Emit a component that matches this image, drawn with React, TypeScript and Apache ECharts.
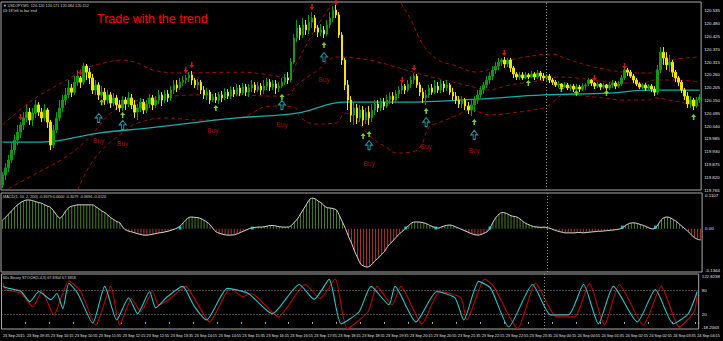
import { useEffect, useRef } from "react";
import * as echarts from "echarts";

// [open, close, low, high] per 5-minute bar, USDJPY M5 from 23 Sep 2015 08:55
const candles: number[][] = [
  [119.787,119.830,119.774,119.842],[119.830,119.860,119.808,119.881],[119.860,119.894,119.842,119.916],[119.894,119.937,119.881,119.971],
  [119.937,119.980,119.916,120.002],[119.980,120.014,119.959,120.045],[120.014,120.045,119.989,120.057],[120.045,120.075,120.023,120.100],
  [120.075,120.100,120.057,120.131],[120.100,120.066,120.045,120.118],[120.066,120.096,120.040,120.118],[120.096,120.131,120.075,120.152],
  [120.131,120.100,120.083,120.143],[120.100,120.075,120.057,120.118],[120.075,120.109,120.062,120.135],[120.109,120.057,120.032,120.118],
  [120.057,119.959,119.937,120.066],[119.959,120.023,119.946,120.045],[120.023,120.075,120.010,120.100],[120.075,120.118,120.062,120.152],
  [120.118,120.152,120.100,120.174],[120.152,120.174,120.131,120.204],[120.174,120.204,120.161,120.238],[120.204,120.186,120.165,120.221],
  [120.186,120.229,120.174,120.255],[120.229,120.255,120.212,120.281],[120.247,120.229,120.204,120.255],[120.229,120.298,120.217,120.311],
  [120.298,120.272,120.238,120.307],[120.272,120.247,120.221,120.290],[120.247,120.195,120.178,120.264],[120.195,120.217,120.174,120.238],
  [120.217,120.174,120.152,120.229],[120.174,120.186,120.161,120.212],[120.186,120.152,120.131,120.204],[120.152,120.174,120.135,120.195],
  [120.174,120.139,120.118,120.186],[120.139,120.161,120.126,120.182],[120.161,120.131,120.109,120.174],[120.131,120.118,120.100,120.152],
  [120.118,120.152,120.105,120.169],[120.152,120.135,120.109,120.165],[120.135,120.161,120.122,120.186],[120.161,120.131,120.113,120.178],
  [120.131,120.100,120.075,120.152],[120.100,120.118,120.066,120.135],[120.118,120.143,120.100,120.161],[120.143,120.109,120.092,120.156],
  [120.109,120.135,120.096,120.152],[120.135,120.161,120.118,120.178],[120.161,120.131,120.109,120.174],[120.131,120.152,120.118,120.169],
  [120.152,120.174,120.135,120.195],[120.174,120.152,120.126,120.186],[120.152,120.178,120.139,120.195],[120.178,120.161,120.143,120.195],
  [120.161,120.195,120.148,120.212],[120.195,120.217,120.178,120.238],[120.217,120.204,120.186,120.238],[120.204,120.229,120.195,120.247],
  [120.229,120.238,120.212,120.255],[120.238,120.247,120.221,120.260],[120.247,120.260,120.229,120.272],[120.260,120.238,120.217,120.277],
  [120.238,120.217,120.204,120.247],[120.217,120.229,120.195,120.242],[120.229,120.195,120.178,120.238],[120.195,120.174,120.156,120.212],
  [120.174,120.186,120.152,120.204],[120.186,120.152,120.135,120.195],[120.152,120.165,120.143,120.178],[120.165,120.152,120.139,120.182],
  [120.152,120.174,120.135,120.186],[120.174,120.161,120.143,120.191],[120.161,120.186,120.152,120.204],[120.186,120.169,120.156,120.199],
  [120.169,120.195,120.156,120.212],[120.195,120.178,120.165,120.208],[120.178,120.204,120.169,120.221],[120.204,120.182,120.169,120.217],
  [120.182,120.208,120.174,120.225],[120.208,120.186,120.169,120.221],[120.186,120.204,120.165,120.221],[120.204,120.217,120.186,120.238],
  [120.217,120.195,120.182,120.229],[120.195,120.212,120.186,120.229],[120.212,120.195,120.174,120.225],[120.195,120.212,120.178,120.238],
  [120.212,120.229,120.195,120.247],[120.229,120.208,120.191,120.242],[120.208,120.221,120.195,120.238],[120.221,120.204,120.178,120.238],
  [120.204,120.212,120.186,120.229],[120.212,120.229,120.204,120.247],[120.229,120.247,120.217,120.264],[120.247,120.238,120.221,120.272],
  [120.238,120.315,120.229,120.333],[120.315,120.419,120.307,120.436],[120.419,120.462,120.401,120.496],[120.462,120.432,120.410,120.475],
  [120.432,120.475,120.419,120.505],[120.475,120.453,120.432,120.496],[120.453,120.487,120.436,120.518],[120.487,120.505,120.462,120.530],
  [120.505,120.462,120.444,120.518],[120.462,120.444,120.423,120.475],[120.444,120.453,120.427,120.479],[120.453,120.436,120.419,120.470],
  [120.436,120.475,120.427,120.496],[120.475,120.505,120.462,120.530],[120.505,120.539,120.487,120.556],[120.539,120.518,120.505,120.561],
  [120.518,120.432,120.419,120.530],[120.432,120.324,120.303,120.444],[120.324,120.217,120.195,120.333],[120.217,120.152,120.109,120.238],
  [120.152,120.088,120.057,120.169],[120.088,120.118,120.045,120.143],[120.118,120.075,120.049,120.135],[120.075,120.109,120.057,120.131],
  [120.109,120.066,120.040,120.126],[120.066,120.100,120.049,120.118],[120.100,120.075,120.045,120.126],[120.075,120.109,120.057,120.135],
  [120.109,120.135,120.088,120.152],[120.135,120.118,120.100,120.152],[120.118,120.143,120.105,120.161],[120.143,120.126,120.109,120.161],
  [120.126,120.152,120.118,120.174],[120.152,120.169,120.135,120.186],[120.169,120.152,120.135,120.186],[120.152,120.178,120.139,120.195],
  [120.178,120.195,120.161,120.212],[120.195,120.212,120.178,120.229],[120.212,120.195,120.178,120.221],[120.195,120.221,120.186,120.238],
  [120.221,120.238,120.204,120.255],[120.238,120.255,120.221,120.268],[120.255,120.217,120.204,120.264],[120.217,120.186,120.169,120.229],
  [120.186,120.161,120.139,120.204],[120.161,120.174,120.131,120.195],[120.174,120.204,120.161,120.217],[120.204,120.186,120.174,120.221],
  [120.186,120.212,120.178,120.238],[120.212,120.195,120.182,120.229],[120.195,120.221,120.182,120.238],[120.221,120.204,120.186,120.234],
  [120.204,120.217,120.191,120.238],[120.217,120.186,120.174,120.225],[120.186,120.169,120.152,120.204],[120.169,120.152,120.135,120.186],
  [120.152,120.135,120.118,120.169],[120.135,120.152,120.118,120.169],[120.152,120.126,120.109,120.161],[120.126,120.109,120.092,120.143],
  [120.109,120.131,120.083,120.152],[120.131,120.152,120.100,120.169],[120.152,120.174,120.135,120.195],[120.174,120.195,120.161,120.212],
  [120.195,120.217,120.178,120.229],[120.217,120.238,120.204,120.255],[120.238,120.255,120.221,120.272],[120.255,120.281,120.238,120.298],
  [120.281,120.298,120.264,120.315],[120.298,120.315,120.281,120.333],[120.315,120.324,120.298,120.333],[120.324,120.307,120.290,120.337],
  [120.307,120.324,120.294,120.333],[120.324,120.290,120.272,120.333],[120.290,120.264,120.247,120.298],[120.264,120.251,120.238,120.272],
  [120.251,120.260,120.238,120.272],[120.260,120.247,120.238,120.272],[120.247,120.260,120.242,120.272],[120.260,120.251,120.242,120.268],
  [120.251,120.264,120.247,120.277],[120.264,120.251,120.238,120.272],[120.251,120.268,120.242,120.281],[120.268,120.255,120.238,120.277],
  [120.255,120.247,120.234,120.268],[120.247,120.255,120.234,120.264],[120.255,120.238,120.225,120.264],[120.238,120.229,120.217,120.247],
  [120.229,120.217,120.208,120.238],[120.217,120.221,120.204,120.234],[120.221,120.208,120.195,120.225],[120.208,120.217,120.204,120.229],
  [120.217,120.204,120.195,120.225],[120.204,120.212,120.191,120.221],[120.212,120.199,120.186,120.221],[120.199,120.208,120.195,120.221],
  [120.208,120.199,120.186,120.217],[120.199,120.212,120.191,120.225],[120.212,120.217,120.195,120.225],[120.221,120.238,120.212,120.247],
  [120.238,120.225,120.212,120.242],[120.225,120.212,120.199,120.229],[120.212,120.221,120.204,120.229],[120.221,120.208,120.195,120.225],
  [120.208,120.217,120.199,120.225],[120.217,120.204,120.195,120.221],[120.204,120.217,120.195,120.229],[120.217,120.225,120.204,120.238],
  [120.225,120.212,120.199,120.234],[120.212,120.221,120.204,120.234],[120.221,120.247,120.212,120.260],[120.247,120.281,120.238,120.294],
  [120.281,120.272,120.255,120.290],[120.272,120.255,120.247,120.281],[120.255,120.238,120.225,120.264],[120.238,120.221,120.212,120.247],
  [120.221,120.208,120.199,120.229],[120.208,120.217,120.199,120.225],[120.217,120.204,120.195,120.225],[120.204,120.212,120.195,120.221],
  [120.212,120.199,120.186,120.221],[120.199,120.186,120.169,120.212],[120.186,120.281,120.174,120.303],[120.281,120.358,120.268,120.380],
  [120.358,120.333,120.303,120.380],[120.333,120.303,120.281,120.358],[120.303,120.315,120.272,120.346],[120.315,120.272,120.251,120.324],
  [120.272,120.247,120.229,120.281],[120.247,120.229,120.212,120.255],[120.229,120.195,120.182,120.238],[120.195,120.169,120.152,120.204],
  [120.169,120.135,120.118,120.186],[120.135,120.152,120.118,120.169],[120.152,120.126,120.109,120.161],[120.126,120.152,120.118,120.165],
  [120.152,120.165,120.139,120.178],
];

// dashed envelope bands and moving average, sampled [bar, price]
const upperBand: number[][] = [[0,120.045],[10,120.152],[23,120.251],[28,120.290],[35,120.315],[39,120.324],[45,120.311],[50,120.281],[59,120.268],[79,120.272],[89,120.260],[95,120.247],[98,120.315],[105,120.475],[111,120.582],[118,120.647],[130,120.647],[133,120.561],[136,120.496],[140,120.389],[145,120.324],[150,120.303],[158,120.272],[163,120.290],[168,120.320],[174,120.337],[183,120.350],[187,120.333],[191,120.315],[197,120.294],[202,120.281],[207,120.272],[216,120.268],[219,120.303],[222,120.324],[232,120.337]];
const middleBand: number[][] = [[0,119.756],[9,119.821],[21,119.907],[29,119.993],[36,120.096],[43,120.143],[54,120.165],[65,120.174],[79,120.174],[89,120.169],[95,120.174],[98,120.217],[105,120.281],[111,120.337],[122,120.324],[131,120.294],[140,120.260],[150,120.229],[158,120.204],[161,120.195],[169,120.217],[180,120.238],[185,120.251],[191,120.247],[202,120.229],[213,120.225],[217,120.238],[224,120.238],[232,120.229]];
const lowerBand: number[][] = [[25,119.765],[31,119.907],[41,120.023],[45,120.053],[54,120.075],[65,120.066],[79,120.075],[89,120.126],[97,120.122],[99,120.079],[104,120.049],[111,120.053],[114,120.096],[123,119.989],[128,119.946],[131,119.924],[136,119.928],[139,119.950],[142,120.036],[145,120.053],[150,120.079],[156,120.109],[162,120.088],[169,120.096],[180,120.118],[183,120.139],[185,120.165],[188,120.174],[197,120.165],[207,120.152],[215,120.152],[217,120.161],[222,120.152],[232,120.126]];
const trendMA: number[][] = [[0,119.971],[13,119.971],[32,120.010],[49,120.032],[78,120.075],[98,120.096],[114,120.143],[134,120.143],[158,120.156],[180,120.174],[202,120.182],[215,120.195],[232,120.195]];

// signal arrows [bar, price]
const sellArrows: number[][] = [[6,120.079],[26,120.272],[61,120.281],[63,120.303],[103,120.552],[111,120.573],[133,120.238],[137,120.290],[167,120.354],[197,120.247],[207,120.298]];
const upArrows: number[][] = [[33,120.143],[40,120.088],[71,120.118],[93,120.165],[107,120.389],[120,119.997],[122,120.006],[141,120.105],[157,120.057],[175,120.225],[186,120.199],[191,120.182],[201,120.182],[214,120.204],[230,120.079]];
const buyArrows: number[][] = [[32,120.075],[40,120.045],[93,120.131],[107,120.337],[122,119.958],[141,120.057],[157,120.002]];
const buyLabels: number[][] = [[32,119.976],[40,119.967],[70,120.023],[93,120.045],[107,120.242],[122,119.881],[141,119.954],[157,119.937]];

// MACD oscillator per bar
const macd: number[] = [
  0.027,0.035,0.045,0.055,0.065,0.074,0.081,0.086,0.089,0.089,0.087,0.084,0.081,0.079,0.074,0.070,0.066,0.055,0.042,0.033,
  0.040,0.055,0.065,0.070,0.072,0.074,0.074,0.074,0.074,0.074,0.074,0.068,0.062,0.055,0.050,0.042,0.034,0.028,0.022,0.018,
  0.004,-0.004,-0.008,-0.010,-0.013,-0.016,-0.018,-0.020,-0.020,-0.019,-0.017,-0.015,-0.013,-0.012,-0.010,-0.008,-0.005,-0.002,0.002,0.008,
  0.018,0.028,0.035,0.036,0.035,0.034,0.031,0.026,0.020,0.012,0.000,-0.010,-0.014,-0.017,-0.019,-0.020,-0.020,-0.019,-0.016,-0.012,
  -0.008,-0.004,0.000,0.003,0.004,0.005,0.005,0.006,0.008,0.010,0.010,0.008,0.006,0.005,0.005,0.005,0.010,0.020,0.030,0.045,
  0.060,0.075,0.090,0.095,0.092,0.085,0.080,0.070,0.065,0.064,0.062,0.058,0.040,0.020,0.000,-0.025,-0.045,-0.070,-0.090,-0.110,
  -0.116,-0.119,-0.117,-0.108,-0.098,-0.090,-0.080,-0.070,-0.055,-0.045,-0.035,-0.025,-0.015,-0.008,0.002,0.010,0.018,0.021,0.021,0.020,
  0.018,0.015,0.010,0.006,0.003,0.002,0.006,0.009,0.011,0.011,0.008,0.004,0.000,-0.004,-0.008,-0.012,-0.016,-0.019,-0.020,-0.018,
  -0.014,-0.010,0.002,0.020,0.035,0.045,0.050,0.049,0.045,0.040,0.038,0.036,0.030,0.022,0.016,0.012,0.008,0.006,0.005,0.004,
  0.005,0.003,0.001,-0.003,-0.006,-0.009,-0.011,-0.013,-0.013,-0.013,-0.013,-0.012,-0.012,-0.013,-0.012,-0.011,-0.010,-0.009,-0.008,-0.008,
  -0.007,-0.006,-0.005,-0.004,-0.003,-0.001,0.002,0.010,0.015,0.018,0.018,0.016,0.013,0.010,0.006,0.002,-0.001,0.002,0.015,0.028,
  0.035,0.036,0.033,0.028,0.022,0.014,0.006,-0.002,-0.010,-0.020,-0.028,-0.033,-0.035,
];
const macdCross: number[][] = [[59,0.002],[83,0.002],[134,0.002],[144,0.002],[162,0.002],[206,0.005],[217,0.005]];

// stochastic lines sampled [bar, value]
const stochSignal: number[][] = [[0,99],[1,83],[6,73],[10,39],[13,78],[17,18],[22,105],[26,78],[31,-8],[36,91],[39,-8],[43,60],[46,26],[50,78],[52,44],[56,60],[61,91],[65,47],[69,0],[76,86],[80,65],[83,73],[92,13],[101,96],[106,60],[111,110],[115,-17],[122,26],[125,91],[130,44],[133,91],[140,-5],[146,78],[153,62],[155,5],[161,110],[164,91],[172,-17],[178,99],[185,13],[191,13],[196,99],[201,-8],[206,96],[214,-8],[220,91],[226,-13],[231,26],[232,73]];
const stochMain: number[][] = [[0,91],[2,86],[6,78],[9,52],[12,78],[16,57],[18,73],[20,34],[22,99],[25,73],[30,-3],[34,91],[38,5],[42,62],[45,21],[49,78],[51,36],[55,65],[60,91],[64,39],[68,5],[75,86],[82,73],[90,21],[99,96],[104,58],[109,109],[113,-5],[119,26],[123,91],[129,44],[131,91],[138,0],[145,78],[151,62],[154,5],[159,104],[163,86],[169,-13],[177,96],[183,18],[189,18],[194,96],[199,-5],[204,91],[212,0],[218,83],[224,-5],[229,21],[232,78]];

const MONTHS = ["Jan","Feb","Mar","Apr","May","Jun","Jul","Aug","Sep","Oct","Nov","Dec"];
const START_MS = Date.UTC(2015, 8, 23, 8, 55);
const times: string[] = candles.map((_, i) => {
  const d = new Date(START_MS + i * 300000);
  const p = (n: number) => String(n).padStart(2, "0");
  return `${d.getUTCDate()} ${MONTHS[d.getUTCMonth()]} ${p(d.getUTCHours())}:${p(d.getUTCMinutes())}`;
});
const daySeparator = "24 Sep 00:00";

const FONT = "Liberation Sans Narrow, Liberation Sans, Arial, sans-serif";
const LBL = { color: "#e2e2e2", fontSize: 4.4, fontFamily: FONT };
const TIME_LBL = { color: "#e2e2e2", fontSize: 3.8, fontFamily: FONT };

export default function App() {
  const ref = useRef<HTMLDivElement>(null);
  useEffect(() => {
    if (!ref.current) return;
    const chart = echarts.init(ref.current, undefined, { renderer: "svg" });
    const grids = [
      { left: 1, right: 17, top: 2, height: 188 },
      { left: 1, right: 17, top: 193, height: 79 },
      { left: 1, right: 17, top: 274, height: 55 },
    ].map((g) => ({ ...g, show: true, borderColor: "#a8a8a8", borderWidth: 1, backgroundColor: "#000" }));

    const xAxes = [0, 1, 2].map((k) => ({
      type: "category",
      gridIndex: k,
      data: times,
      boundaryGap: true,
      axisLine: { show: false },
      axisTick: k === 2 ? { show: true, interval: (i: number) => i % 8 === 0, length: 2, lineStyle: { color: "#aaa" } } : { show: false },
      axisLabel: k === 2
        ? { show: true, interval: (i: number) => i % 8 === 0, align: "left", margin: 5, hideOverlap: false, ...TIME_LBL,
            formatter: (v: string, i: number) => (i === 0 ? "23 Sep 2015" : v) }
        : { show: false },
      splitLine: { show: false },
    }));

    const yBase = { position: "right", splitLine: { show: false }, axisLine: { show: false }, axisTick: { show: false } };
    const yAxes = [
      { ...yBase, gridIndex: 0, min: 119.765, max: 120.5737, interval: 0.055,
        axisLabel: { ...LBL, margin: 3, showMaxLabel: false, formatter: (v: number) => v.toFixed(3) } },
      { ...yBase, gridIndex: 1, min: -0.1344, max: 0.1107, interval: 0.1344,
        axisLabel: { ...LBL, margin: 3, verticalAlignMaxLabel: "top", verticalAlignMinLabel: "bottom",
          formatter: (v: number) => (Math.abs(v) < 1e-9 ? "0.00" : v.toFixed(4)) } },
      { ...yBase, gridIndex: 2, min: -18.2063, max: 122.8238, interval: 141.0301,
        axisLabel: { ...LBL, margin: 3, verticalAlignMaxLabel: "top", verticalAlignMinLabel: "bottom",
          formatter: (v: number) => v.toFixed(4) } },
    ];

    const sepLine = {
      silent: true, symbol: "none", label: { show: false },
      lineStyle: { color: "#9a9a9a", type: [1, 2], width: 1 },
      data: [{ xAxis: daySeparator }],
    };
    const band = (data: number[][]) => ({
      type: "line", data, xAxisIndex: 0, yAxisIndex: 0, showSymbol: false, smooth: 0.4,
      lineStyle: { color: "#9e0b0b", width: 1, type: [4, 3] }, z: 2,
    });
    const upPath = "path://M4,0 L8,4 L5.2,4 L5.2,8 L2.8,8 L2.8,4 L0,4 Z";
    const downPath = "path://M2.8,0 L5.2,0 L5.2,4 L8,4 L4,8 L0,4 L2.8,4 Z";
    const info = (text: string, top: number) => ({
      type: "text", left: 3, top, style: { text, fill: "#d0d0d0", fontSize: 3.8, fontFamily: FONT },
    });

    chart.setOption({
      animation: false,
      backgroundColor: "#000",
      grid: grids,
      xAxis: xAxes,
      yAxis: yAxes,
      graphic: [
        info("\u25BC USDJPY,M5  120.120 120.171 120.084 120.152", 4),
        info("03:18 left to bar end", 9),
        { type: "text", left: 97, top: 12, style: { text: "Trade with the trend", fill: "#ff0000", fontSize: 12.5, fontFamily: "Liberation Sans" } },
        info("MACD(1, 10, 2, 200) -0.3079 0.0000 -0.3079 -0.3696 -0.0120", 195),
        info("60s Binary STOCH(5,4,3) 67.8304 67.3858", 276),
      ],
      series: [
        {
          type: "candlestick", xAxisIndex: 0, yAxisIndex: 0, data: candles, barWidth: 2, z: 3,
          itemStyle: { color: "#0f9a0f", color0: "#f2e400", borderColor: "#0f9a0f", borderColor0: "#f2e400", borderWidth: 1 },
          markLine: sepLine,
        },
        band(upperBand),
        band(middleBand),
        band(lowerBand),
        {
          type: "line", data: trendMA, xAxisIndex: 0, yAxisIndex: 0, showSymbol: false, smooth: 0.4,
          lineStyle: { color: "#1fa8a8", width: 1.3 }, z: 2,
        },
        { type: "scatter", data: sellArrows, xAxisIndex: 0, yAxisIndex: 0, symbol: downPath, symbolSize: [5, 6], itemStyle: { color: "#ff1a1a" }, z: 5 },
        { type: "scatter", data: upArrows, xAxisIndex: 0, yAxisIndex: 0, symbol: upPath, symbolSize: [5, 6], itemStyle: { color: "#9cff2e" }, z: 5 },
        { type: "scatter", data: buyArrows, xAxisIndex: 0, yAxisIndex: 0, symbol: upPath, symbolSize: [7, 9],
          itemStyle: { color: "rgba(0,0,0,0)", borderColor: "#22c0c8", borderWidth: 1 }, z: 5 },
        { type: "scatter", data: buyLabels, xAxisIndex: 0, yAxisIndex: 0, symbolSize: 0, z: 5,
          label: { show: true, position: "inside", formatter: "Buy", color: "#c41010", fontSize: 6.5, fontFamily: "Liberation Sans" } },
        {
          type: "bar", xAxisIndex: 1, yAxisIndex: 1, barWidth: 1,
          data: macd.map((v) => ({ value: v, itemStyle: { color: v >= 0 ? "#4d7d1c" : "#a83a32" } })),
          markLine: sepLine,
        },
        { type: "line", xAxisIndex: 1, yAxisIndex: 1, data: macd, showSymbol: false, smooth: 0.3, lineStyle: { color: "#d8d8d8", width: 1 }, z: 3 },
        { type: "scatter", xAxisIndex: 1, yAxisIndex: 1, data: macdCross, symbol: "rect", symbolSize: 3, itemStyle: { color: "#22e0e8" }, z: 4 },
        {
          type: "line", xAxisIndex: 2, yAxisIndex: 2, data: stochSignal, showSymbol: false, smooth: 0.2,
          lineStyle: { color: "#c00000", width: 1.1 },
          markLine: {
            silent: true, symbol: "none",
            data: [
              { yAxis: 80, lineStyle: { color: "#8a8a8a", type: [1, 2], width: 1 }, label: { show: true, position: "end", formatter: "80", distance: 3, ...LBL } },
              { yAxis: 20, lineStyle: { color: "#8a8a8a", type: [1, 2], width: 1 }, label: { show: true, position: "end", formatter: "20", distance: 3, ...LBL } },
              { yAxis: 0, lineStyle: { opacity: 0 }, label: { show: true, position: "end", formatter: "0.00", distance: 3, ...LBL } },
              { xAxis: daySeparator, lineStyle: { color: "#9a9a9a", type: [1, 2], width: 1 }, label: { show: false } },
            ],
          },
        },
        { type: "line", xAxisIndex: 2, yAxisIndex: 2, data: stochMain, showSymbol: false, smooth: 0.2, lineStyle: { color: "#1ec8c8", width: 1.1 } },
      ],
    });
    return () => chart.dispose();
  }, []);
  return <div ref={ref} style={{ position: "fixed", left: 0, top: 0, width: 723, height: 341, background: "#000" }} />;
}
